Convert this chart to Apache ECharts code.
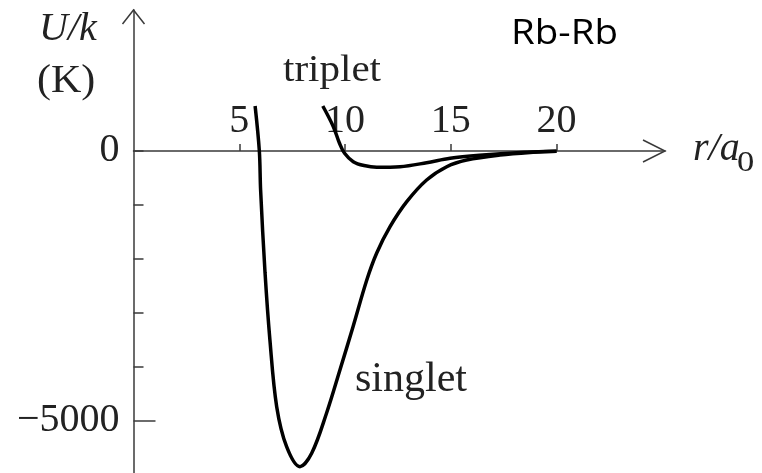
<!DOCTYPE html>
<html>
<head>
<meta charset="utf-8">
<script src="https://cdn.jsdelivr.net/npm/echarts@6/dist/echarts.min.js"></script>
<style>
  html, body { margin: 0; padding: 0; background: #fff; }
  #chart { width: 762px; height: 473px; }
</style>
</head>
<body>
<div id="chart"></div>
<script>
// Rb2 ground-state potential curves, U/k in kelvin versus r in Bohr radii
const singletR = [5.75, 5.95, 6.01, 6.22, 6.45, 6.77, 7.24, 7.87, 8.43, 9.13, 9.76, 10.38, 11.03, 11.50, 12.13, 12.92, 13.86, 14.81, 15.75, 17.33, 18.89, 20.0];
const singletU = [833, 0, -722, -2259, -3500, -4735, -5476, -5846, -5593, -4852, -4056, -3254, -2389, -1889, -1402, -939, -537, -291, -167, -74, -24, -5];
const tripletR = [8.95, 9.45, 9.74, 9.98, 10.39, 10.90, 11.50, 12.60, 13.86, 14.97, 16.52, 18.12, 20.0];
const tripletU = [833, 450, 143, -43, -198, -270, -302, -291, -217, -135, -74, -31, -5];

const xTicks = [5, 10, 15, 20];
const yTicksMinor = [0, -1000, -2000, -3000, -4000];
const yTickMajor = -5000;
const yLabels = [0, -5000];

const X_MAX = 25.13, Y_MIN = -5963, Y_MAX = 2611;

const serif = '"Liberation Serif", "DejaVu Serif", serif';
const axisColor = '#3a3a3a';
const textColor = '#222';
const GRID_TOP = 10;

const zip = (a, b) => a.map((v, i) => [v, b[i]]);

const chart = echarts.init(document.getElementById('chart'), null, { renderer: 'canvas' });

const option = {
  animation: false,
  backgroundColor: '#fff',
  grid: { left: 133.5, right: 97, top: GRID_TOP, bottom: 0, containLabel: false, outerBoundsMode: 'none' },
  xAxis: {
    type: 'value', min: 0, max: X_MAX, position: 'top',
    axisLine: { onZero: false, lineStyle: { color: axisColor, width: 1.5 } },
    axisTick: { show: true, inside: false, length: 7, customValues: xTicks, lineStyle: { color: axisColor, width: 1.5 } },
    axisLabel: { margin: 9, customValues: xTicks, color: textColor, fontFamily: serif, fontSize: 40 },
    splitLine: { show: false }
  },
  yAxis: {
    type: 'value', min: Y_MIN, max: Y_MAX,
    axisLine: { show: true, lineStyle: { color: axisColor, width: 1.5 } },
    axisTick: { show: true, inside: true, length: 10, customValues: yTicksMinor, lineStyle: { color: axisColor, width: 1.5 } },
    axisLabel: {
      margin: 14, customValues: yLabels, color: textColor, fontFamily: serif, fontSize: 40,
      formatter: v => (v < 0 ? '\u2212' + Math.abs(v) : String(v))
    },
    splitLine: { show: false }
  },
  series: [
    {
      name: 'singlet', type: 'line', data: zip(singletR, singletU),
      smooth: 0.35, showSymbol: false, symbol: 'none', z: 5,
      lineStyle: { color: '#000', width: 3.5 }
    },
    {
      name: 'triplet', type: 'line', data: zip(tripletR, tripletU),
      smooth: 0.35, showSymbol: false, symbol: 'none', z: 5,
      lineStyle: { color: '#000', width: 3.5 }
    }
  ]
};
chart.setOption(option);

// Move the r axis down to U = 0 so that its ticks and labels sit on the zero line
const zeroPx = chart.convertToPixel({ gridIndex: 0 }, [0, 0]);
chart.setOption({ xAxis: { offset: -(zeroPx[1] - GRID_TOP) } });

// Axis arrows, the long tick at -5000 and the free-standing labels
const yTip = chart.convertToPixel({ gridIndex: 0 }, [0, Y_MAX]);
const xTip = chart.convertToPixel({ gridIndex: 0 }, [X_MAX, 0]);
const majorTick = chart.convertToPixel({ gridIndex: 0 }, [0, yTickMajor]);

const lineStyle = { stroke: axisColor, lineWidth: 1.5, fill: null };
const txt = (text, x, y, font, extra) => Object.assign({
  type: 'text', x, y, z: 10,
  style: { text, font, fill: textColor, textAlign: 'left', textVerticalAlign: 'middle' }
}, extra || {});

chart.setOption({
  graphic: [
    { type: 'polyline', z: 10, shape: { points: [[yTip[0] - 11, yTip[1] + 14], [yTip[0], yTip[1]], [yTip[0] + 11, yTip[1] + 14]] }, style: lineStyle },
    { type: 'polyline', z: 10, shape: { points: [[xTip[0] - 22, xTip[1] - 11], [xTip[0], xTip[1]], [xTip[0] - 22, xTip[1] + 11]] }, style: lineStyle },
    { type: 'line', z: 10, shape: { x1: majorTick[0], y1: majorTick[1], x2: majorTick[0] + 22, y2: majorTick[1] }, style: lineStyle },
    txt('U/k', 39, 29.5, 'italic 40px ' + serif),
    txt('(K)', 37, 81.5, '40px ' + serif, { scaleX: 1.05 }),
    txt('triplet', 283, 71, '38px ' + serif, { scaleX: 1.08 }),
    txt('singlet', 355, 379.5, '42px ' + serif),
    txt('r/a', 693, 149.5, 'italic 40px ' + serif),
    txt('0', 737, 163.5, '30px ' + serif, { scaleX: 1.15 }),
    {
      type: 'text', x: 511, y: 34, z: 10, scaleX: 1.1,
      style: { text: 'Rb-Rb', font: '35px "Open Sans", "Noto Sans", sans-serif', fill: '#000', textAlign: 'left', textVerticalAlign: 'middle' }
    }
  ]
});
</script>
</body>
</html>
